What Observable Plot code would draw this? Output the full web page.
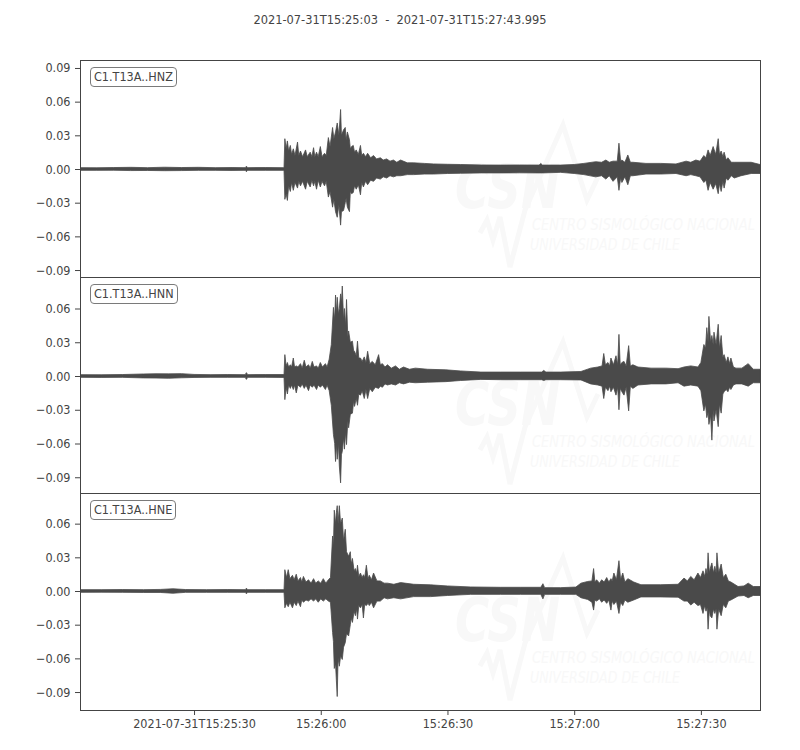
<!DOCTYPE html>
<html><head><meta charset="utf-8">
<script src="https://cdn.jsdelivr.net/npm/d3@7"></script>
<script src="https://cdn.jsdelivr.net/npm/@observablehq/plot@0.6"></script>
<style>
body{margin:0;background:#fff;}
#wrap{position:relative;width:800px;height:750px;font-family:"DejaVu Sans Condensed","DejaVu Sans",sans-serif;font-stretch:condensed;color:#444;overflow:hidden;}
.title{position:absolute;top:12px;left:0;width:800px;text-align:center;font-size:12.7px;white-space:pre;}
.panel{position:absolute;left:0;}
.wm{position:absolute;left:0;}
.lab{position:absolute;left:90px;height:18px;line-height:18px;padding:0 3px;border:1px solid #7a7a7a;border-radius:4px;background:#fff;font-size:12.5px;color:#444;}
</style></head><body><div id="wrap"></div><script>
// ---- data (t = seconds after 2021-07-31T15:25:03, upper envelope, lower envelope) ----
const startTime = "2021-07-31T15:25:03Z";
const endTime = "2021-07-31T15:27:43.995Z";
const titleText = "2021-07-31T15:25:03  -  2021-07-31T15:27:43.995";
const channels = ["C1.T13A..HNZ", "C1.T13A..HNN", "C1.T13A..HNE"];
const yDomains = [[-0.0962, 0.0971], [-0.104, 0.088], [-0.106, 0.0873]];
const yTicks = [-0.09, -0.06, -0.03, 0, 0.03, 0.06, 0.09];
const xTickTimes = ["2021-07-31T15:25:30Z","2021-07-31T15:26:00Z","2021-07-31T15:26:30Z","2021-07-31T15:27:00Z","2021-07-31T15:27:30Z"];
const xTickLabels = ["2021-07-31T15:25:30","15:26:00","15:26:30","15:27:00","15:27:30"];

const hnz = [
[0,.0012,-.0012],[4,.0011,-.0012],[8,.0013,-.0011],[12,.0015,-.0014],[16,.0012,-.0013],[20,.0016,-.0015],[24,.0013,-.0014],[28,.0015,-.0012],[32,.0012,-.0012],[36,.0013,-.0013],[39.1,.0012,-.0012],[39.4,.0025,-.0024],[39.7,.0012,-.0012],[44,.0013,-.0012],[48.3,.0012,-.0012],
[48.5,.027,-.027],[48.8,.018,-.022],[49.1,.025,-.028],[49.4,.016,-.015],[49.8,.021,-.020],[50.1,.013,-.012],[50.5,.018,-.019],[50.9,.012,-.012],[51.5,.024,-.017],[51.8,.012,-.011],[52.2,.016,-.015],[52.7,.011,-.011],[53.4,.017,-.018],[53.8,.011,-.011],[54.5,.015,-.016],[54.9,.011,-.010],[55.3,.019,-.015],[55.6,.011,-.011],[56.0,.015,-.018],[56.4,.011,-.010],[56.9,.020,-.016],[57.3,.011,-.011],[57.9,.014,-.015],[58.3,.012,-.011],
[58.8,.028,-.025],[59.2,.020,-.020],[59.8,.037,-.034],[60.1,.027,-.027],[60.5,.033,-.038],[60.9,.041,-.043],[61.3,.030,-.032],[61.7,.053,-.050],[61.9,.030,-.038],[62.4,.035,-.037],[62.8,.037,-.030],[63.0,.026,-.026],[63.3,.033,-.034],[63.8,.026,-.038],[64.0,.018,-.020],[64.3,.020,-.022],[64.7,.021,-.021],[65.0,.015,-.015],[65.4,.017,-.018],[65.9,.013,-.014],[66.4,.021,-.023],[66.7,.012,-.012],[67.1,.014,-.016],[67.6,.011,-.011],[68.1,.014,-.014],[68.8,.010,-.010],[69.5,.012,-.011],[70.2,.009,-.008],[71.1,.010,-.009],[71.8,.008,-.007],[72.6,.009,-.008],[73.4,.007,-.006],[74.2,.008,-.007],[75.0,.006,-.006],[75.9,.008,-.006],[77.5,.0055,-.005],[79.0,.0055,-.005],[81.5,.005,-.0045],[83.7,.0045,-.0045],[87.0,.0042,-.004],[90.1,.004,-.0038],[95.0,.0036,-.0035],[99.6,.0035,-.0035],[104.0,.0036,-.0034],[108.7,.0035,-.0035],[109.1,.005,-.0035],[109.5,.0035,-.0035],[113.8,.0035,-.003],[117.0,.004,-.004],
[119.3,.005,-.005],[122.1,.0065,-.007],[123.5,.006,-.006],[124.5,.008,-.009],[125.3,.006,-.006],[126.2,.007,-.011],[127.2,.007,-.007],[127.6,.023,-.019],[128.0,.007,-.008],[128.3,.008,-.012],[129.0,.006,-.007],[129.7,.0125,-.014],[130.3,.006,-.006],[130.9,.006,-.006],[134.0,.005,-.0045],[137.5,.005,-.0045],[141.1,.0045,-.004],[143.5,.007,-.006],[144.6,.006,-.005],[145.8,.008,-.006],[146.8,.007,-.007],[147.7,.012,-.012],[148.2,.010,-.010],[148.7,.017,-.019],[149.2,.012,-.012],[149.9,.020,-.018],[150.5,.013,-.013],[151.1,.027,-.022],[151.4,.013,-.013],[151.8,.016,-.020],[152.2,.011,-.011],[152.5,.015,-.017],[153.0,.008,-.008],[153.4,.010,-.010],[154.2,.006,-.006],[154.9,.006,-.008],[156.5,.006,-.006],[158.9,.006,-.004],[161,.004,-.004]
];
const hnn = [
[0,.0012,-.0012],[5,.0011,-.0013],[10,.0013,-.0012],[15,.0018,-.0017],[18,.0020,-.0018],[21,.0019,-.0020],[24,.0021,-.0016],[27,.0014,-.0013],[31,.0012,-.0012],[35,.0013,-.0012],[39.1,.0012,-.0012],[39.4,.003,-.003],[39.7,.0012,-.0012],[44,.0013,-.0012],[48.3,.0013,-.0013],
[48.5,.019,-.021],[48.8,.009,-.010],[49.1,.012,-.016],[49.4,.008,-.008],[49.8,.010,-.011],[50.1,.008,-.008],[50.5,.016,-.012],[50.8,.008,-.008],[51.2,.009,-.015],[51.6,.008,-.008],[52.2,.011,-.010],[52.6,.007,-.007],[53.1,.014,-.011],[53.5,.008,-.008],[54.1,.010,-.013],[54.5,.007,-.008],[55.0,.013,-.010],[55.4,.008,-.008],[56.0,.009,-.012],[56.4,.007,-.008],[56.9,.012,-.010],[57.4,.008,-.008],[58.1,.011,-.012],[58.5,.008,-.008],[59.0,.015,-.013],
[59.5,.028,-.026],[60.0,.061,-.052],[60.3,.050,-.060],[60.5,.072,-.076],[60.7,.055,-.060],[60.9,.070,-.074],[61.2,.055,-.060],[61.4,.060,-.080],[61.7,.073,-.095],[61.9,.065,-.070],[62.1,.080,-.067],[62.4,.050,-.055],[62.6,.060,-.065],[62.9,.045,-.050],[63.1,.068,-.061],[63.4,.035,-.040],[63.6,.040,-.046],[64.0,.030,-.034],[64.5,.031,-.033],[64.8,.022,-.022],[65.0,.022,-.027],[65.4,.018,-.020],[65.7,.031,-.026],[66.0,.016,-.016],[66.4,.016,-.017],[66.8,.013,-.013],[67.3,.017,-.020],[67.7,.012,-.012],[68.1,.022,-.020],[68.6,.011,-.011],[69.2,.013,-.014],[69.9,.010,-.010],[70.7,.019,-.011],[71.1,.010,-.009],[71.6,.011,-.010],[72.2,.008,-.007],[72.8,.010,-.008],[73.7,.007,-.007],[74.7,.009,-.008],[75.6,.006,-.006],[76.6,.008,-.007],[78.0,.006,-.0055],[79.4,.007,-.006],[82.3,.006,-.0055],[86.6,.0055,-.005],[90.1,.0045,-.004],[94.9,.0035,-.003],[99.6,.0035,-.0033],[104.3,.0035,-.0033],[109.3,.0035,-.0033],[109.8,.005,-.004],[110.3,.0035,-.0033],[113.8,.0035,-.0033],[118.6,.004,-.0035],
[120.9,.007,-.007],[122.6,.008,-.008],[123.6,.009,-.009],[124.0,.020,-.020],[124.4,.010,-.010],[125.0,.012,-.013],[125.4,.009,-.009],[125.7,.016,-.014],[126.3,.010,-.010],[126.9,.018,-.017],[127.3,.010,-.010],[127.6,.037,-.030],[127.9,.010,-.011],[128.3,.012,-.014],[128.8,.013,-.017],[129.3,.009,-.010],[129.9,.027,-.031],[130.3,.009,-.009],[130.9,.010,-.011],[132.1,.008,-.008],[135.2,.007,-.007],[138.7,.007,-.007],[141.6,.0065,-.006],[143.0,.008,-.009],[144.6,.009,-.008],[146.3,.008,-.009],[147.0,.012,-.013],[147.7,.028,-.031],[148.1,.025,-.025],[148.4,.043,-.037],[148.7,.030,-.032],[148.9,.053,-.043],[149.3,.030,-.035],[149.6,.036,-.057],[149.9,.028,-.030],[150.1,.039,-.040],[150.6,.028,-.030],[151.1,.046,-.045],[151.4,.025,-.025],[151.8,.036,-.033],[152.2,.017,-.016],[152.5,.019,-.014],[153.0,.012,-.012],[153.4,.017,-.014],[153.8,.011,-.010],[154.1,.016,-.012],[154.7,.008,-.008],[155.3,.007,-.007],[156.7,.007,-.007],[158.2,.011,-.009],[159.4,.006,-.006],[161,.006,-.006]
];
const hne = [
[0,.0012,-.0012],[5,.0012,-.0011],[10,.0013,-.0012],[15,.0012,-.0013],[19,.0014,-.0013],[22,.0020,-.0020],[25,.0013,-.0012],[30,.0012,-.0012],[35,.0013,-.0012],[39.1,.0012,-.0012],[39.4,.0025,-.0025],[39.7,.0012,-.0012],[44,.0012,-.0012],[48.3,.0012,-.0012],
[48.5,.019,-.015],[48.9,.012,-.011],[49.3,.019,-.014],[49.7,.011,-.010],[50.3,.014,-.015],[50.7,.010,-.010],[51.2,.015,-.013],[51.6,.009,-.009],[52.2,.012,-.014],[52.5,.008,-.008],[52.9,.013,-.010],[53.5,.008,-.008],[54.1,.010,-.009],[54.7,.007,-.007],[55.3,.011,-.009],[55.8,.007,-.007],[56.4,.009,-.010],[57.0,.007,-.007],[57.6,.011,-.009],[58.2,.007,-.007],[58.8,.010,-.009],[59.3,.012,-.010],
[59.8,.049,-.037],[60.0,.040,-.045],[60.2,.072,-.069],[60.5,.060,-.065],[60.7,.070,-.080],[60.9,.076,-.094],[61.1,.060,-.060],[61.4,.076,-.067],[61.7,.060,-.058],[62.1,.065,-.061],[62.4,.045,-.050],[62.8,.055,-.046],[63.1,.035,-.038],[63.6,.031,-.040],[64.0,.035,-.030],[64.2,.024,-.024],[64.5,.029,-.028],[64.9,.018,-.018],[65.2,.020,-.022],[65.5,.016,-.016],[65.7,.023,-.025],[66.0,.013,-.013],[66.4,.016,-.015],[66.8,.012,-.012],[67.1,.0145,-.024],[67.4,.012,-.012],[67.8,.023,-.013],[68.2,.011,-.011],[68.5,.014,-.013],[69.0,.010,-.010],[69.5,.016,-.015],[70.3,.009,-.009],[71.1,.009,-.009],[72.0,.007,-.006],[72.8,.007,-.007],[74.3,.006,-.006],[75.9,.0075,-.007],[79.0,.006,-.005],[83.0,.0055,-.005],[87.0,.0045,-.004],[92.5,.0036,-.003],[99.6,.0033,-.003],[104.3,.0033,-.003],[109.1,.0033,-.003],[109.6,.0065,-.007],[110.0,.003,-.003],[113.8,.003,-.003],[117.4,.0035,-.003],
[118.6,.007,-.006],[120.2,.0085,-.0075],[121.2,.009,-.010],[121.6,.020,-.017],[121.9,.008,-.008],[122.3,.010,-.009],[123.0,.007,-.007],[123.5,.010,-.010],[124.1,.008,-.008],[124.7,.012,-.011],[125.2,.008,-.008],[125.7,.011,-.017],[126.0,.009,-.009],[126.4,.016,-.012],[127.0,.010,-.009],[127.6,.027,-.020],[128.0,.010,-.010],[128.5,.016,-.013],[129.0,.008,-.008],[129.7,.011,-.010],[131.1,.008,-.008],[132.8,.0056,-.0053],[137.5,.0056,-.0053],[141.6,.006,-.0055],[143.0,.0115,-.009],[143.8,.009,-.009],[144.6,.013,-.0125],[145.4,.010,-.010],[146.3,.016,-.013],[146.9,.012,-.012],[147.5,.018,-.020],[147.9,.013,-.013],[148.2,.020,-.018],[148.5,.015,-.015],[148.7,.034,-.034],[149.0,.016,-.016],[149.2,.020,-.022],[149.6,.025,-.024],[150.0,.016,-.016],[150.3,.022,-.020],[150.6,.016,-.016],[150.8,.034,-.034],[151.2,.016,-.016],[151.8,.024,-.022],[152.3,.012,-.012],[152.9,.015,-.015],[153.5,.009,-.009],[154.1,.008,-.008],[155.8,.004,-.0045],[157.2,.0045,-.004],[158.2,.007,-.006],[159.4,.004,-.004],[161,.004,-.004]
];
const traces = [hnz, hnn, hne];

// ---- layout ----
const panelTops = [60, 277, 493];
const panelHeights = [217, 216, 217];
const ink = "#4a4a4a";
const wrap = document.getElementById("wrap");
const t0 = new Date(startTime).getTime();
const toDate = s => new Date(t0 + s * 1000);
const fmt = d3.format(".2f");

const title = document.createElement("div");
title.className = "title";
title.textContent = titleText;
wrap.appendChild(title);

// very faint watermark (behind plots)
function watermark(top) {
  const ns = "http://www.w3.org/2000/svg";
  const svg = document.createElementNS(ns, "svg");
  svg.setAttribute("width", 800); svg.setAttribute("height", 217);
  svg.setAttribute("class", "wm");
  svg.style.top = top + "px";
  svg.innerHTML = `
    <polyline points="480,173 487,160 493,180 500,157 510,207 525,150 563,65 587,140 598,117" fill="none" stroke="#f8f8f8" stroke-width="5" stroke-linejoin="miter"/>
    <text x="455" y="148" font-size="60" font-weight="bold" font-style="italic" fill="#f8f8f8" textLength="105" lengthAdjust="spacingAndGlyphs" font-family="DejaVu Sans">CSN</text>
    <text x="532" y="170" font-size="16" font-style="italic" fill="#f8f8f8" textLength="223" lengthAdjust="spacingAndGlyphs" font-family="DejaVu Sans">CENTRO SISMOLÓGICO NACIONAL</text>
    <text x="530" y="190" font-size="16" font-style="italic" fill="#f8f8f8" textLength="150" lengthAdjust="spacingAndGlyphs" font-family="DejaVu Sans">UNIVERSIDAD DE CHILE</text>`;
  wrap.appendChild(svg);
}
panelTops.forEach(watermark);

traces.forEach((data, i) => {
  const last = i === traces.length - 1;
  const dom = yDomains[i];
  const marks = [
    Plot.areaY(data, {x: d => toDate(d[0]), y1: d => d[2], y2: d => d[1], fill: ink, stroke: ink, strokeWidth: 0.8, curve: "linear", clip: true}),
    Plot.axisY({ticks: yTicks.filter(v => v >= dom[0] && v <= dom[1]), tickFormat: fmt, tickSize: 5, tickPadding: 5, label: null, stroke: "#444"}),
    Plot.frame({stroke: "#444", strokeWidth: 1})
  ];
  if (last) marks.push(Plot.axisX({ticks: xTickTimes.map(s => new Date(s)), tickFormat: (d, k) => xTickLabels[k], tickSize: 5, tickPadding: 4, label: null, stroke: "#444"}));
  const chart = Plot.plot({
    width: 800,
    height: panelHeights[i] + (last ? 40 : 0),
    marginLeft: 80, marginRight: 40, marginTop: 0, marginBottom: last ? 40 : 0,
    x: {type: "utc", domain: [new Date(startTime), new Date(endTime)], axis: null},
    y: {domain: dom, axis: null},
    style: {background: "transparent", overflow: "visible", color: "#444", fontSize: "12.5px", fontFamily: '"DejaVu Sans Condensed","DejaVu Sans",sans-serif', fontStretch: "condensed"},
    marks
  });
  chart.classList.add("panel");
  chart.style.top = panelTops[i] + "px";
  chart.style.position = "absolute";
  wrap.appendChild(chart);

  const lab = document.createElement("div");
  lab.className = "lab";
  lab.style.top = (panelTops[i] + 7) + "px";
  lab.textContent = channels[i];
  wrap.appendChild(lab);
});
</script></body></html>
